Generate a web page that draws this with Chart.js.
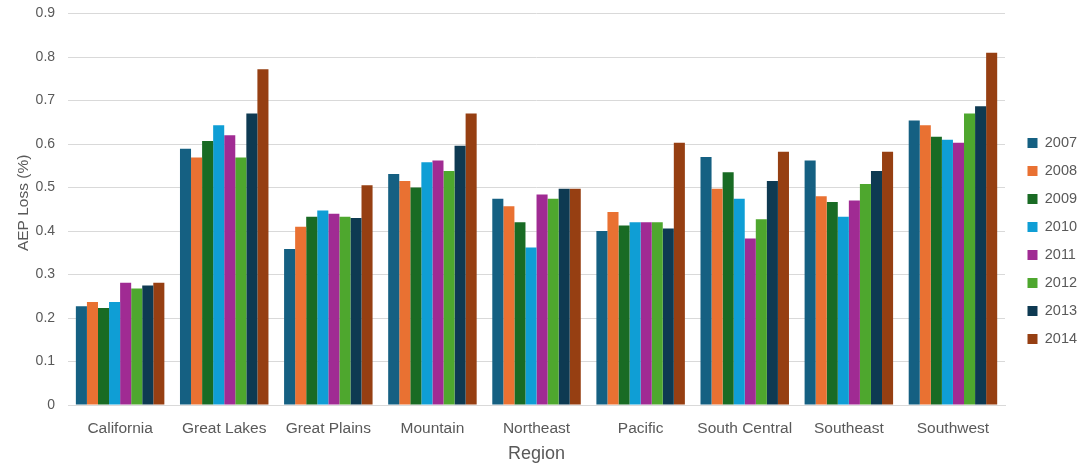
<!DOCTYPE html>
<html>
<head>
<meta charset="utf-8">
<script src="https://cdn.jsdelivr.net/npm/chart.js@4.4.1/dist/chart.umd.min.js"></script>
<style>
  html, body { margin: 0; padding: 0; background: #ffffff; }
  #wrap { position: relative; width: 1078px; height: 465px; }
</style>
</head>
<body>
<div id="wrap"><canvas id="chart" width="1078" height="465"></canvas></div>
<script>
// Regions along the x axis
const regions = ['California', 'Great Lakes', 'Great Plains', 'Mountain', 'Northeast', 'Pacific', 'South Central', 'Southeast', 'Southwest'];

// Years shown as series
const years = ['2007', '2008', '2009', '2010', '2011', '2012', '2013', '2014'];

// AEP loss (%) per region, one array per year
const loss2007 = [0.227, 0.589, 0.359, 0.531, 0.474, 0.400, 0.570, 0.562, 0.654];
const loss2008 = [0.237, 0.569, 0.410, 0.515, 0.457, 0.444, 0.497, 0.480, 0.643];
const loss2009 = [0.223, 0.607, 0.433, 0.500, 0.420, 0.413, 0.535, 0.467, 0.617];
const loss2010 = [0.237, 0.643, 0.447, 0.558, 0.362, 0.420, 0.474, 0.433, 0.610];
const loss2011 = [0.281, 0.620, 0.440, 0.562, 0.484, 0.420, 0.383, 0.470, 0.603];
const loss2012 = [0.268, 0.569, 0.433, 0.538, 0.474, 0.420, 0.427, 0.508, 0.670];
const loss2013 = [0.275, 0.670, 0.430, 0.596, 0.497, 0.406, 0.515, 0.538, 0.687];
const loss2014 = [0.281, 0.772, 0.505, 0.670, 0.497, 0.603, 0.582, 0.582, 0.810];

// Y axis tick values
const yTicks = [0, 0.1, 0.2, 0.3, 0.4, 0.5, 0.6, 0.7, 0.8, 0.9];

const seriesValues = [loss2007, loss2008, loss2009, loss2010, loss2011, loss2012, loss2013, loss2014];
const seriesColors = ['#156082', '#e97132', '#196b24', '#0f9ed5', '#a02b93', '#4ea72e', '#0e3a52', '#963f12'];

const textGray = '#595959';
const fontFamily = "'Liberation Sans', Arial, sans-serif";

// Fixed legend column width and the gap between plot and legend swatches
const LEGEND_WIDTH = 73;
const LEGEND_SHIFT = 9;

const datasets = years.map((yr, i) => ({
  label: yr,
  data: seriesValues[i],
  backgroundColor: seriesColors[i],
  borderWidth: 0,
  categoryPercentage: 0.85,
  barPercentage: 1.0
}));

// Keeps the legend column at a fixed width and nudges it away from the plot
const legendPlacement = {
  id: 'legendPlacement',
  afterInit(chart) {
    const lg = chart.legend;
    const baseFit = lg.fit.bind(lg);
    lg.fit = function () {
      baseFit();
      this.width = LEGEND_WIDTH;
    };
  },
  afterLayout(chart) {
    const lg = chart.legend;
    lg.left = chart.chartArea.right + LEGEND_SHIFT;
    lg.right = lg.left + LEGEND_WIDTH + 20;
  }
};

new Chart(document.getElementById('chart'), {
  type: 'bar',
  data: { labels: regions, datasets: datasets },
  plugins: [legendPlacement],
  options: {
    responsive: false,
    animation: false,
    layout: { padding: { top: 13.5, right: 0, bottom: 0, left: 6 } },
    plugins: {
      tooltip: { enabled: false },
      legend: {
        position: 'right',
        align: 'center',
        title: { display: true, text: ' ', padding: 0, font: { size: 3 } },
        labels: {
          boxWidth: 10,
          boxHeight: 10,
          padding: 13.5,
          color: textGray,
          font: { family: fontFamily, size: 14.5 }
        }
      }
    },
    scales: {
      x: {
        grid: { display: false },
        border: { display: true, color: '#d9d9d9', width: 1 },
        ticks: {
          color: textGray,
          font: { family: fontFamily, size: 15.5 },
          padding: 6.6,
          maxRotation: 0,
          autoSkip: false
        },
        title: {
          display: true,
          text: 'Region',
          color: textGray,
          font: { family: fontFamily, size: 18 },
          padding: { top: -1.5, bottom: 0 }
        }
      },
      y: {
        min: 0,
        max: 0.9,
        afterBuildTicks: (axis) => { axis.ticks = yTicks.map(v => ({ value: v })); },
        grid: { color: '#d9d9d9', lineWidth: 1, drawTicks: true, tickLength: 13, tickColor: 'rgba(0,0,0,0)' },
        border: { display: false },
        ticks: {
          color: textGray,
          font: { family: fontFamily, size: 14 },
          padding: 0,
          callback: (v) => String(Math.round(v * 10) / 10)
        },
        title: {
          display: true,
          // leading spaces lift the rotated title slightly above the axis centre
          text: '   AEP Loss (%)',
          color: textGray,
          font: { family: fontFamily, size: 15.5 },
          padding: { top: 8, bottom: 3 }
        }
      }
    }
  }
});
</script>
</body>
</html>
